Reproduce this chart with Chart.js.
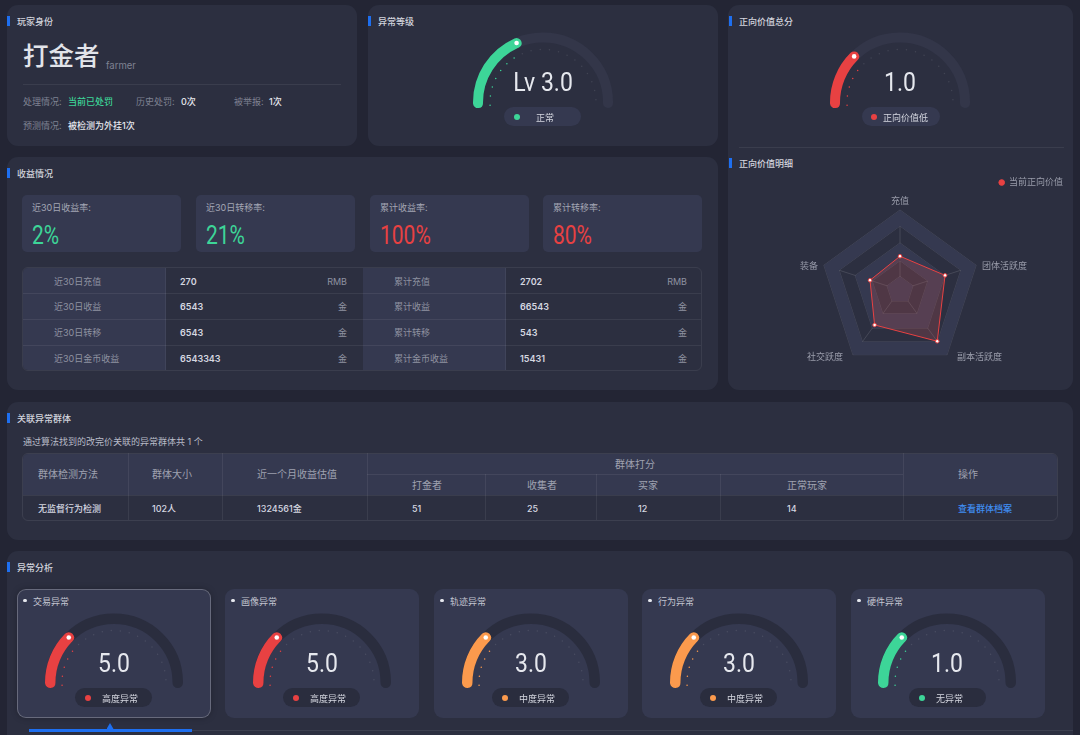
<!DOCTYPE html>
<html lang="zh">
<head>
<meta charset="utf-8">
<title>玩家档案</title>
<script src="https://cdn.jsdelivr.net/npm/chart.js@4/dist/chart.umd.js"></script>
<style>
html,body{margin:0;padding:0;background:#232534;overflow:hidden}
#root{position:relative;width:1080px;height:735px;overflow:hidden;background:#232534;font-family:"Inter","Noto Sans CJK SC",sans-serif;color:#d5d7e0;font-size:9px;filter:blur(.3px)}
.box{position:absolute;box-sizing:border-box}
.t{position:absolute;white-space:nowrap;line-height:1;transform:translateY(-50%)}
canvas{position:absolute;display:block}
</style>
</head>
<body>
<div id="root"></div>
<script>
// ---------- data ----------
const panelTitles = ['玩家身份','异常等级','正向价值总分','正向价值明细','收益情况','关联异常群体','异常分析'];
const playerType = '打金者';
const playerTypeEn = 'farmer';
const playerRows = ['处理情况:','当前已处罚','历史处罚:','0次','被举报:','1次','预测情况:','被检测为外挂1次'];

const kpiLabels = ['近30日收益率:','近30日转移率:','累计收益率:','累计转移率:'];
const kpiValues = ['2%','21%','100%','80%'];

const incomeLabelsA = ['近30日充值','近30日收益','近30日转移','近30日金币收益'];
const incomeValuesA = ['270','6543','6543','6543343'];
const incomeLabelsB = ['累计充值','累计收益','累计转移','累计金币收益'];
const incomeValuesB = ['2702','66543','543','15431'];
const incomeUnits = ['RMB','金','金','金'];

const groupIntro = '通过算法找到的改完价关联的异常群体共 1 个';
const groupHeaders = ['群体检测方法','群体大小','近一个月收益估值','群体打分','操作'];
const groupScoreHeaders = ['打金者','收集者','买家','正常玩家'];
const groupRow = ['无监督行为检测','102人','1324561金'];
const groupScores = ['51','25','12','14'];
const groupAction = '查看群体档案';

const radarLabels = ['充值','团体活跃度','副本活跃度','社交跃度','装备'];
const radarValues = [2.11,2.96,3.96,2.7,1.97];
const radarRings = [0,0.85,1.83,2.94,4,5];
const radarSeries = '当前正向价值';

const levelText = 'Lv 3.0';
const levelFill = 39.7;
const levelStatus = '正常';
const scoreText = '1.0';
const scoreFill = 28.7;
const scoreStatus = '正向价值低';

const anomalyNames = ['交易异常','画像异常','轨迹异常','行为异常','硬件异常'];
const anomalyScores = ['5.0','5.0','3.0','3.0','1.0'];
const anomalyFill = [28.7,28.7,28.7,28.7,28.7];
const anomalyStatus = ['高度异常','高度异常','中度异常','中度异常','无异常'];

// ---------- style ----------
const C = {panel:'#2c2f40',card:'#353950',track:'#333649',trackDark:'#2a2d3e',red:'#e84142',orange:'#fb9a4d',green:'#3dd598',blue:'#1e6ff0',
  line:'rgba(255,255,255,.07)',grey:'#7f8292',light:'#d5d7e0',white:'#e6e8ee'};
const root = document.getElementById('root');
function box(x,y,w,h,bg,r,extra){const d=document.createElement('div');d.className='box';
  d.style.cssText=`left:${x}px;top:${y}px;width:${w}px;height:${h}px;background:${bg};border-radius:${r||0}px;${extra||''}`;root.appendChild(d);return d;}
function txt(x,y,s,color,size,extra){const d=document.createElement('div');d.className='t';d.textContent=s;
  d.style.cssText=`left:${x}px;top:${y}px;color:${color||C.light};font-size:${size||9}px;${extra||''}`;root.appendChild(d);return d;}
function title(x,y,s){box(x,y-5,2.5,10,C.blue);txt(x+10,y,s,'#d2d4dd',9,'font-weight:500');}

// ---------- panels ----------
[[7,5,350,141],[368,5,350,141],[728,5,345,385],[7,157,711,233],[7,402,1066,138],[7,551,1066,200]].forEach(p=>box(p[0],p[1],p[2],p[3],C.panel,11));
title(7,21,panelTitles[0]);title(368,21,panelTitles[1]);title(729,21,panelTitles[2]);title(729,163,panelTitles[3]);
title(7,173,panelTitles[4]);title(7,418,panelTitles[5]);title(7,567,panelTitles[6]);
box(739,147,325,1,C.line);

// player
txt(23,56,playerType,'#e2e4ea',25.5,'font-weight:500');
txt(106,65.5,playerTypeEn,C.grey,9.5);
box(23,84,318,1,C.line);
const rowX=[23,68,136,181,234,269,23,68];
const rowY=[101,101,101,101,101,101,125,125];
playerRows.forEach((s,i)=>{const isVal=i%2===1;
  txt(rowX[i],rowY[i],s,i===1?C.green:(isVal?C.white:C.grey),9,isVal?'font-weight:500':'');});

// KPI cards
const kpiX=[22,196,370,543], kpiColor=[C.green,C.green,C.red,C.red];
kpiLabels.forEach((s,i)=>{box(kpiX[i],195,i>1?158.5:159,57,C.card,5);
  txt(kpiX[i]+10,207,s,'#a3a6b4',9);
  txt(kpiX[i]+10,235,kpiValues[i],kpiColor[i],25,'font-family:Roboto,sans-serif;font-weight:400;transform-origin:left center;transform:translateY(-50%) scaleX(.84)');});

// income table
box(22,267,680,104,'transparent',6,'overflow:hidden;border:1px solid rgba(255,255,255,.07)');
const tbl=root.lastChild;
[[0,142],[340,142]].forEach(c=>{const s=document.createElement('div');s.style.cssText=`position:absolute;left:${c[0]}px;top:0;width:${c[1]}px;height:104px;background:${C.card};border-right:1px solid rgba(255,255,255,.06)`;tbl.appendChild(s);});
[293,319,345].forEach(y=>box(23,y,678,1,C.line));
const rowMid=[280.5,306,332,358];
incomeLabelsA.forEach((s,i)=>{
  txt(54,rowMid[i],s,'#8f92a1',9);
  txt(180,rowMid[i],incomeValuesA[i],C.light,9,'font-weight:600');
  txt(347,rowMid[i],incomeUnits[i],'#8f92a1',9,'transform:translate(-100%,-50%)');
  txt(394,rowMid[i],incomeLabelsB[i],'#8f92a1',9);
  txt(520,rowMid[i],incomeValuesB[i],C.light,9,'font-weight:600');
  txt(687,rowMid[i],incomeUnits[i],'#8f92a1',9,'transform:translate(-100%,-50%)');
});

// group table
txt(23,441,groupIntro,'#b9bcc8',9);
box(22,453,1036,67.5,'transparent',6,'overflow:hidden;border:1px solid rgba(255,255,255,.08)');
const gt=root.lastChild;
const hd=document.createElement('div');hd.style.cssText=`position:absolute;left:0;top:0;width:100%;height:41px;background:${C.card}`;gt.appendChild(hd);
box(128,453,1,67,C.line);box(222,453,1,67,C.line);box(367,453,1,67,C.line);box(903,453,1,67,C.line);
box(485,474,1,46,C.line);box(596,474,1,46,C.line);box(720,474,1,46,C.line);
box(367,473.5,536,1,C.line);box(23,494.5,1034,1,C.line);
const hdCol=[38,152,257];
hdCol.forEach((x,i)=>txt(x,474,groupHeaders[i],'#9fa2b0',10));
txt(635,463.5,groupHeaders[3],'#9fa2b0',10,'transform:translate(-50%,-50%)');
txt(958,474,groupHeaders[4],'#9fa2b0',10);
const scoreCol=[412,527,638,787];
groupScoreHeaders.forEach((s,i)=>txt(scoreCol[i],484.5,s,'#9fa2b0',10));
hdCol.forEach((x,i)=>txt(x,508,groupRow[i],C.light,9,'font-weight:500'));
groupScores.forEach((s,i)=>txt(scoreCol[i],508,s,C.light,9,'font-weight:500'));
txt(958,508,groupAction,'#3f8cf0',9,'font-weight:500');

// ---------- gauges ----------
const gaugePlugin={id:'gaugeDeco',
  beforeDatasetsDraw(ch,a,o){const arc=ch.getDatasetMeta(0).data[0],end=ch.getDatasetMeta(0).data[1];
    const {x,y,outerRadius:R,innerRadius:r}=arc.getProps(['x','y','outerRadius','innerRadius'],true);
    const th=R-r,mid=(R+r)/2,cap=(th/2)/mid,c=ch.ctx,s=arc.startAngle,e=end.endAngle;
    c.save();c.lineCap='round';c.lineWidth=th;c.strokeStyle=o.track;c.beginPath();c.arc(x,y,mid,s+cap,e-cap);c.stroke();
    const fillEnd=arc.endAngle-cap;
    for(let ang=s+Math.PI*2/180;ang<e;ang+=Math.PI/18){c.beginPath();c.arc(x+Math.cos(ang)*(R-17),y+Math.sin(ang)*(R-17),o.dot,0,Math.PI*2);
      c.fillStyle=ang<=fillEnd?o.color:'rgba(255,255,255,.1)';c.fill();}
    c.restore();},
  afterDatasetsDraw(ch){const arc=ch.getDatasetMeta(0).data[0];
    const {x,y,outerRadius:R,innerRadius:r,endAngle}=arc.getProps(['x','y','outerRadius','innerRadius','endAngle'],true);
    const mid=(R+r)/2,ang=endAngle-((R-r)/2)/mid,c=ch.ctx;
    c.save();c.fillStyle='#fff';c.beginPath();c.arc(x+Math.cos(ang)*mid,y+Math.sin(ang)*mid,2.3,0,Math.PI*2);c.fill();c.restore();}
};
function gauge(cx,cy,R,th,fill,color,track){
  const cv=document.createElement('canvas');const w=R*2,h=Math.ceil(R*1.0872);
  cv.width=w;cv.height=h;cv.style.cssText=`left:${cx-R}px;top:${cy-R}px;width:${w}px;height:${h}px`;root.appendChild(cv);
  new Chart(cv,{type:'doughnut',plugins:[gaugePlugin],
    data:{datasets:[{data:[fill,100-fill],backgroundColor:[color,'rgba(0,0,0,0)'],borderWidth:0,borderRadius:th/2,spacing:0}]},
    options:{responsive:false,animation:false,rotation:-95,circumference:190,cutout:((R-th)/R*100)+'%',events:[],
      plugins:{legend:{display:false},tooltip:{enabled:false},gaugeDeco:{track,color,dot:.75}}}});
}
function pill(x,w,y,bg,color,s,dotX,textX){box(x,y,w,19,bg,9.5);
  box(dotX-3,y+6.5,6,6,color,3);txt(textX,y+9.5,s,C.light,9);}
const numStyle='font-family:Roboto,sans-serif;transform:translate(-50%,-50%) scaleX(.92)';

gauge(543,102,70,10,levelFill,C.green,C.track);
txt(543,82,levelText,C.white,25,numStyle);
pill(504,77,107,C.card,C.green,levelStatus,516.5,536);

gauge(900,102,70,10,scoreFill,C.red,C.track);
txt(900,82,scoreText,C.white,25,numStyle);
pill(862,78,107,C.card,C.red,scoreStatus,874,883);

// anomaly cards
const cardX=[17,225,434,642,851], gaugeX=[114,322,531,739,947];
const anomalyColor=[C.red,C.red,C.orange,C.orange,C.green];
anomalyNames.forEach((s,i)=>{
  box(cardX[i],589,194,128.5,C.card,9,i===0?'border:1px solid rgba(255,255,255,.25);box-shadow:0 0 6px rgba(0,0,0,.25)':'');
  box(cardX[i]+6.3,599,3.4,3.4,'#e6e8ee',2);
  txt(cardX[i]+16,600.7,s,'#c3c5d0',9);
  gauge(gaugeX[i],682,69,10.5,anomalyFill[i],anomalyColor[i],C.trackDark);
  txt(gaugeX[i],663,anomalyScores[i],C.white,25,numStyle);
  pill(cardX[i]+58,77,688,C.trackDark,anomalyColor[i],anomalyStatus[i],cardX[i]+71,cardX[i]+85);
});
box(29,730,1044,1,'rgba(255,255,255,.08)');
box(29,729,163,2.5,C.blue);
box(106.5,723,7,6,C.blue,0,'clip-path:polygon(50% 0,100% 100%,0 100%)');

// ---------- radar ----------
const labelFont='9px "Inter","Noto Sans CJK SC",sans-serif';
const labelShiftX=[0,6,10,-10,-6], labelShiftY=[-9,1,2.5,2.5,1], labelAlign=['center','left','left','right','right'];
const bandPlugin={id:'radarBands',
  beforeDatasetsDraw(ch,a,o){const sc=ch.scales.r,c=ch.ctx,n=ch.data.labels.length,tk=sc.ticks.map(t=>t.value);
    c.save();c.fillStyle=o.color;
    for(let k=tk.length-1;k>0;k-=2){const outer=tk[k],inner=tk[k-1];c.beginPath();
      for(let i=0;i<n;i++){const p=sc.getPointPositionForValue(i,outer);i?c.lineTo(p.x,p.y):c.moveTo(p.x,p.y);}c.closePath();
      if(inner>0){for(let i=0;i<n;i++){const p=sc.getPointPositionForValue(i,inner);i?c.lineTo(p.x,p.y):c.moveTo(p.x,p.y);}c.closePath();}
      c.fill('evenodd');}
    c.restore();},
  afterDatasetsDraw(ch,a,o){const sc=ch.scales.r,c=ch.ctx;
    c.save();c.font=labelFont;c.fillStyle=o.labelColor;c.textBaseline='middle';
    ch.data.labels.forEach((s,i)=>{const p=sc.getPointPositionForValue(i,sc.max);c.textAlign=labelAlign[i];c.fillText(s,p.x+labelShiftX[i],p.y+labelShiftY[i]);});
    c.restore();}};
const legendGap={id:'legendGap',beforeInit(ch){const f=ch.legend.fit;ch.legend.fit=function(){f.call(this);this.height=35;};}};
const rc=document.createElement('canvas');rc.width=340;rc.height=210;rc.style.cssText='left:730px;top:175px;width:340px;height:210px';root.appendChild(rc);
new Chart(rc,{type:'radar',plugins:[legendGap,bandPlugin],
  data:{labels:radarLabels,datasets:[{label:radarSeries,data:radarValues,borderColor:C.red,borderWidth:1,backgroundColor:'rgba(220,90,90,.2)',
    pointRadius:1.8,pointBackgroundColor:'#fff',pointBorderColor:C.red,pointBorderWidth:1,fill:true}]},
  options:{responsive:false,animation:false,events:[],layout:{padding:{left:4,right:4,top:0,bottom:15}},
    scales:{r:{min:0,max:5,afterBuildTicks(s){s.ticks=radarRings.map(v=>({value:v}));},
      ticks:{display:false},grid:{color:'rgba(255,255,255,.12)',lineWidth:1},angleLines:{color:'rgba(255,255,255,.12)'},
      pointLabels:{display:false}}},
    plugins:{tooltip:{enabled:false},radarBands:{color:'#353950',labelColor:'#9a9dab'},
      legend:{position:'top',align:'end',labels:{usePointStyle:true,pointStyle:'circle',boxWidth:5.6,boxHeight:4,padding:3,color:'#9a9dab',font:{size:9,family:'"Inter","Noto Sans CJK SC",sans-serif'},
        generateLabels(ch){return Chart.defaults.plugins.legend.labels.generateLabels(ch).map(l=>Object.assign(l,{fillStyle:C.red,strokeStyle:C.red}));}}}}}});
</script>
</body>
</html>
